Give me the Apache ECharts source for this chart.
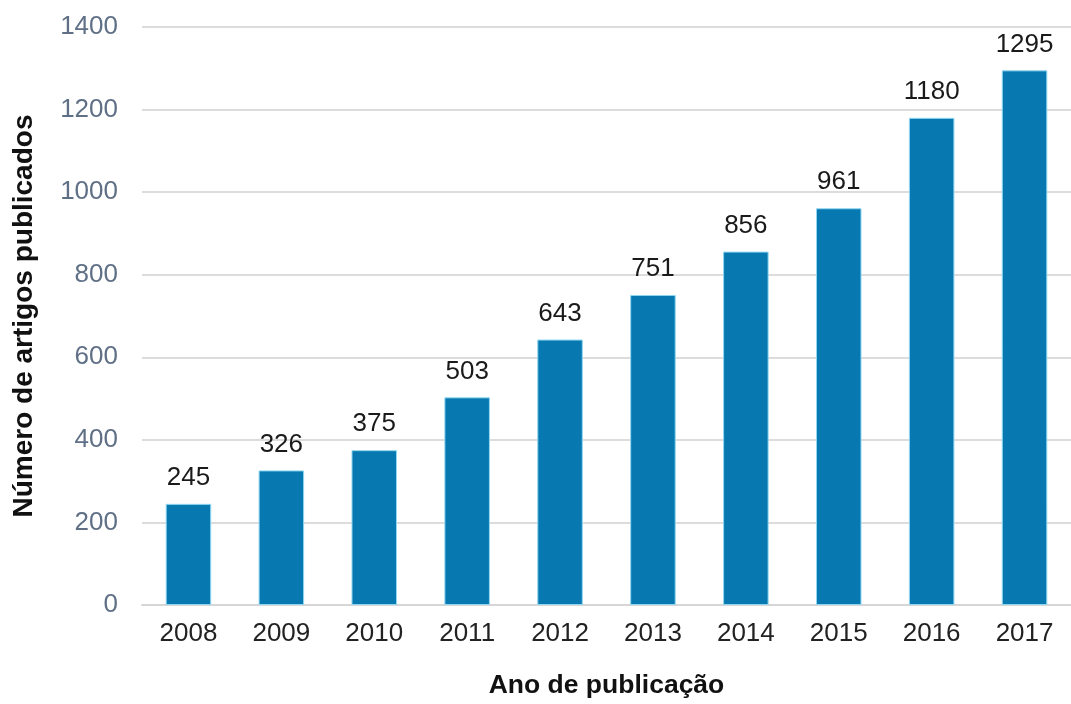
<!DOCTYPE html>
<html>
<head>
<meta charset="utf-8">
<script src="https://cdn.jsdelivr.net/npm/echarts@6/dist/echarts.min.js"></script>
<style>
  html, body { margin: 0; padding: 0; background: #ffffff; }
  #chart { width: 1071px; height: 704px; }
</style>
</head>
<body>
<div id="chart"></div>
<script>
// Articles published per year
const years = ['2008', '2009', '2010', '2011', '2012', '2013', '2014', '2015', '2016', '2017'];
const articles = [245, 326, 375, 503, 643, 751, 856, 961, 1180, 1295];

const FONT = '"Liberation Sans", Arial, sans-serif';

const chart = echarts.init(document.getElementById('chart'), null, { renderer: 'canvas' });

chart.setOption({
  backgroundColor: '#ffffff',
  animation: false,
  grid: { left: 142, right: -12, top: 27, bottom: 99, containLabel: false },
  xAxis: {
    type: 'category',
    data: years,
    name: 'Ano de publicação',
    nameLocation: 'middle',
    nameGap: 67,
    nameTextStyle: { fontFamily: FONT, fontSize: 26.5, fontWeight: 'bold', color: '#111111' },
    axisLine: { show: true, lineStyle: { color: '#d6d6d6', width: 2 } },
    axisTick: { show: false },
    axisLabel: { fontFamily: FONT, fontSize: 26, color: '#222222', margin: 16 }
  },
  yAxis: {
    type: 'value',
    min: 0,
    max: 1400,
    interval: 200,
    name: 'Número de artigos publicados',
    nameLocation: 'middle',
    nameGap: 104,
    nameTextStyle: { fontFamily: FONT, fontSize: 28, fontWeight: 'bold', color: '#111111' },
    axisLine: { show: false },
    axisTick: { show: false },
    axisLabel: {
      fontFamily: FONT,
      fontSize: 26,
      color: '#5f7086',
      margin: 24,
      formatter: (v) => String(v)
    },
    splitLine: { show: true, lineStyle: { color: '#dcdcdc', width: 2 } }
  },
  series: [{
    type: 'bar',
    data: articles,
    barWidth: '49%',
    itemStyle: { color: '#0878b0', borderColor: '#8fd8f2', borderWidth: 1 },
    label: {
      show: true,
      position: 'top',
      distance: 13,
      fontFamily: FONT,
      fontSize: 26,
      color: '#1a1a1a'
    }
  }]
});
</script>
</body>
</html>
